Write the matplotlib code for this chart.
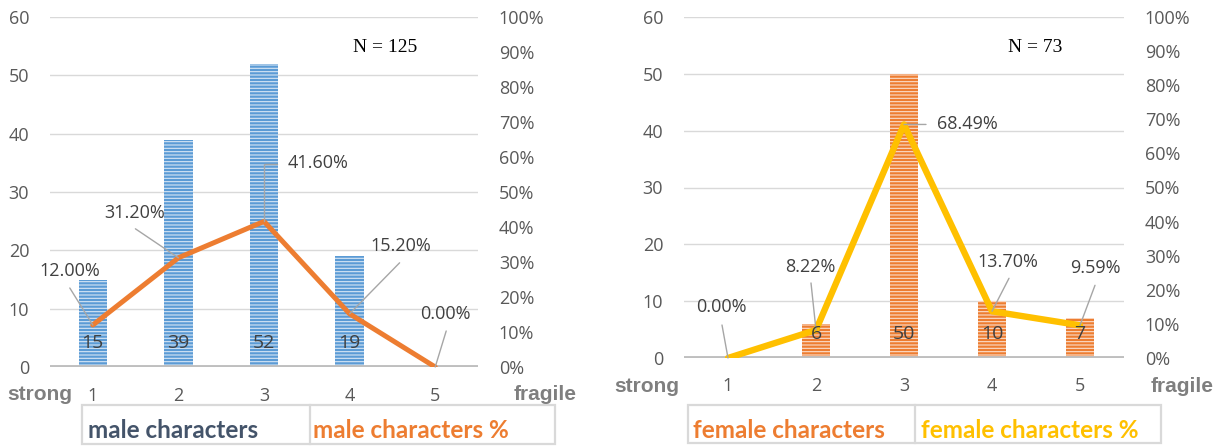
import matplotlib
matplotlib.use("Agg")
import matplotlib.pyplot as plt
from matplotlib.patches import Rectangle
from matplotlib.lines import Line2D

W, H, DPI = 1219, 446, 100

categories = [1, 2, 3, 4, 5]
male_counts = [15, 39, 52, 19, 0]
male_pct = [12.00, 31.20, 41.60, 15.20, 0.00]
female_counts = [0, 6, 50, 10, 7]
female_pct = [0.00, 8.22, 68.49, 13.70, 9.59]
count_ticks = [0, 10, 20, 30, 40, 50, 60]
pct_ticks = [0, 10, 20, 30, 40, 50, 60, 70, 80, 90, 100]
male_n = "N = 125"
female_n = "N = 73"
male_legend = ["male characters", "male characters %"]
female_legend = ["female characters", "female characters %"]

SANS = ["Open Sans", "DejaVu Sans"]
NARROW = ["Liberation Sans Narrow", "Liberation Sans", "DejaVu Sans"]
SERIF = ["Liberation Serif", "DejaVu Serif"]
LEGEND_FONT = ["Lato", "DejaVu Sans"]
TICK_COLOR = "#595959"
LABEL_COLOR = "#404040"
GRID_COLOR = "#d9d9d9"
LEADER_COLOR = "#a6a6a6"

plt.rcParams["hatch.linewidth"] = 0.8

fig = plt.figure(figsize=(W / DPI, H / DPI), dpi=DPI)


def fx(x):
    return x / W


def fy(y):
    return 1 - y / H


def panel(x0, x1, y_top, y_zero, counts, pct, bar_color, line_color, line_w,
          bar_w, pct_offsets, n_text, n_xy, side_y, strong_x, fragile_x,
          box, divider, legend_texts, legend_colors, legend_x, xpad):
    ax = fig.add_axes([fx(x0), fy(y_zero), (x1 - x0) / W, (y_zero - y_top) / H])
    ax.set_xlim(0.5, 5.5)
    ax.set_ylim(0, 60)
    ax.set_yticks(count_ticks)
    ax.set_xticks(categories)
    ax.grid(axis="y", color=GRID_COLOR, lw=1)
    ax.set_axisbelow(True)
    for s in ax.spines.values():
        s.set_visible(False)
    ax.tick_params(length=0, colors=TICK_COLOR, labelsize=13)
    ax.tick_params(axis="y", pad=15)
    ax.tick_params(axis="x", pad=xpad)
    for lab in ax.get_xticklabels() + ax.get_yticklabels():
        lab.set_fontfamily(SANS)

    # striped columns
    ax.bar(categories, counts, width=bar_w, color=bar_color, lw=0, zorder=2)
    ax.bar(categories, counts, width=bar_w, facecolor="none",
           edgecolor="#ffffff", lw=0, hatch="-----", alpha=0.75, zorder=3)
    ax.axhline(0, color="#bfbfbf", lw=2.8, zorder=4)

    ax2 = ax.twinx()
    ax2.set_ylim(0, 100)
    ax2.set_yticks(pct_ticks)
    ax2.set_yticklabels([f"{v}%" for v in pct_ticks])
    for s in ax2.spines.values():
        s.set_visible(False)
    ax2.tick_params(length=0, colors=TICK_COLOR, labelsize=13, pad=15)
    for lab in ax2.get_yticklabels():
        lab.set_fontfamily(SANS)

    ax2.plot(categories, pct, color=line_color, lw=line_w,
             solid_joinstyle="round", solid_capstyle="round", zorder=5)

    # percentage labels with leader lines
    for c, p, (tdx, tdy, lines) in zip(categories, pct, pct_offsets):
        ax2.annotate(f"{p:.2f}%", xy=(c, p), xytext=(tdx, tdy),
                     textcoords="offset pixels", ha="center", va="center",
                     fontsize=13, color=LABEL_COLOR, family=SANS, zorder=7)
        lx, ly, style = lines
        ax2.annotate("", xy=(c, p), xytext=(lx, ly), textcoords="offset pixels",
                     arrowprops=dict(arrowstyle="-", color=LEADER_COLOR, lw=1,
                                     shrinkA=0, shrinkB=0,
                                     connectionstyle=style),
                     zorder=6)

    # count labels inside the columns
    for c, v in zip(categories, counts):
        if v > 0:
            ax2.annotate(f"{v}", xy=(c, 0), xytext=(0, 24),
                         textcoords="offset pixels", ha="center", va="center",
                         fontsize=14, color=LABEL_COLOR, family=SANS, zorder=8)

    fig.text(fx(n_xy[0]), fy(n_xy[1]), n_text, ha="center", va="center",
             fontsize=14, family=SERIF, color="black")
    fig.text(fx(strong_x), fy(side_y), "strong", ha="center", va="center",
             fontsize=15, fontweight="bold", family=NARROW, color="#7f7f7f")
    fig.text(fx(fragile_x), fy(side_y), "fragile", ha="center", va="center",
             fontsize=15, fontweight="bold", family=NARROW, color="#7f7f7f")

    bx0, by0, bx1, by1 = box
    fig.add_artist(Rectangle((fx(bx0), fy(by1)), (bx1 - bx0) / W, (by1 - by0) / H,
                             transform=fig.transFigure, facecolor="none",
                             edgecolor=GRID_COLOR, lw=1.6))
    fig.add_artist(Line2D([fx(divider), fx(divider)], [fy(by0), fy(by1)],
                          transform=fig.transFigure, color=GRID_COLOR, lw=1.6))
    for t, col, tx in zip(legend_texts, legend_colors, legend_x):
        fig.text(fx(tx), fy(428), t, ha="left", va="center_baseline",
                 fontsize=17.5, fontweight="bold", family=LEGEND_FONT, color=col)


straight = "arc3,rad=0"
elbow = "angle,angleA=0,angleB=90,rad=0"

panel(50, 478, 17, 367, male_counts, male_pct, "#5b9bd5", "#ed7d31", 3.6, 0.33,
      [(-23, 54, (-23, 37, straight)),
       (-44, 45, (-43, 29, straight)),
       (54, 58, (13, 57, elbow)),
       (51, 68, (50, 51, straight)),
       (10, 53, (11, 36, straight))],
      male_n, (385, 48), 395, 40, 545,
      (82, 405, 555, 444), 310, male_legend, ["#44546a", "#ed7d31"], [88, 313], 14.5)

panel(684, 1124, 17, 358, female_counts, female_pct, "#ed7d31", "#ffc000", 4.6, 0.32,
      [(-7, 51, (-6, 33, straight)),
       (-6, 63, (-5, 47, straight)),
       (63, 0, (22, 0, straight)),
       (16, 49, (17, 33, straight)),
       (15, 57, (15, 40, straight))],
      female_n, (1035, 47), 387, 647, 1182,
      (688, 405, 1161, 443), 915, female_legend, ["#ed7d31", "#ffc000"], [693, 921], 14)

fig.savefig("out.png", dpi=DPI)
